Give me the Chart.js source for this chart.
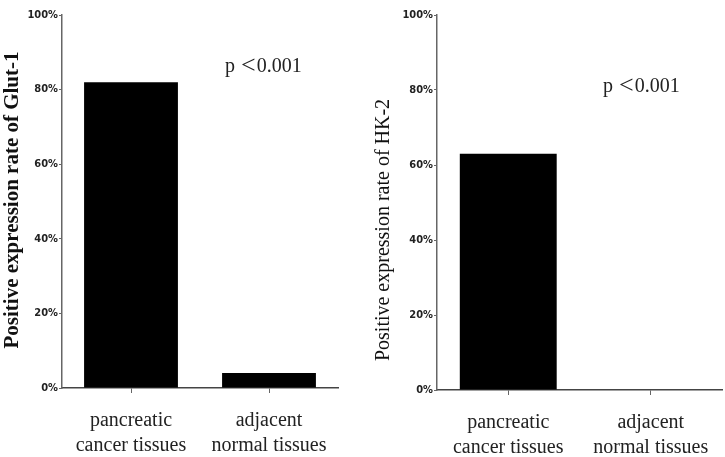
<!DOCTYPE html>
<html>
<head>
<meta charset="utf-8">
<script src="https://cdn.jsdelivr.net/npm/chart.js@4"></script>
<style>
    html, body { margin: 0; padding: 0; background: #fff; }
    #wrap { position: relative; width: 725px; height: 457px; overflow: hidden; }
    .box { position: absolute; top: 0; height: 457px; }
</style>
</head>
<body>
<div id="wrap">
    <div class="box" style="left:0; width:345px;"><canvas id="glutChart"></canvas></div>
    <div class="box" style="left:355px; width:370px;"><canvas id="hkChart"></canvas></div>
</div>
<script>
// Dados
const categories = [['pancreatic', 'cancer tissues'], ['adjacent', 'normal tissues']];
const glutValues = [82, 4];
const hkValues = [63, 0];
const yTicks = [0, 20, 40, 60, 80, 100];
const glutTitle = 'Positive expression rate of Glut-1';
const hkTitle = 'Positive expression rate of HK-2';
const pParts = ['p', '<', '0.001'];

const serif = 'Liberation Serif';
const narrow = 'DejaVu Sans Condensed';

// Textos extras (título do eixo y e valor p)
const extraText = {
    id: 'extraText',
    afterDraw(chart, args, opts) {
        const ctx = chart.ctx;
        ctx.save();
        ctx.fillStyle = '#111';
        ctx.textAlign = 'center';
        ctx.textBaseline = 'middle';
        // título vertical
        ctx.font = opts.titleFont;
        ctx.translate(opts.titleX, opts.titleY);
        ctx.rotate(-Math.PI / 2);
        ctx.fillText(opts.title, 0, 0);
        ctx.restore();

        // valor p, desenhado em partes para o sinal "<" ficar maior
        ctx.save();
        ctx.fillStyle = '#222';
        ctx.textAlign = 'left';
        ctx.textBaseline = 'alphabetic';
        let x = opts.pX;
        const base = opts.pY;
        ctx.font = '20px ' + serif;
        ctx.fillText(pParts[0], x, base);
        x += ctx.measureText(pParts[0]).width + 6;
        ctx.font = '26px ' + serif;
        ctx.fillText(pParts[1], x, base + 1);
        x += ctx.measureText(pParts[1]).width + 1;
        ctx.font = '20px ' + serif;
        ctx.fillText(pParts[2], x, base);
        ctx.restore();
    }
};

function makeChart(id, values, cfg) {
    const ctx = document.getElementById(id).getContext('2d');
    return new Chart(ctx, {
        type: 'bar',
        data: {
            labels: categories,
            datasets: [{
                data: values,
                backgroundColor: '#000',
                borderWidth: 0,
                barPercentage: 0.68,
                categoryPercentage: 1
            }]
        },
        options: {
            responsive: true,
            maintainAspectRatio: false,
            animation: false,
            layout: { padding: { left: 0, right: cfg.padRight, top: 15, bottom: 0 } },
            plugins: {
                legend: { display: false },
                tooltip: { enabled: false },
                extraText: cfg.text
            },
            scales: {
                x: {
                    offset: true,
                    grid: {
                        offset: false,
                        drawOnChartArea: false,
                        drawTicks: true,
                        tickLength: 5,
                        color: '#666'
                    },
                    border: { color: '#444', width: 1.5 },
                    ticks: {
                        color: '#222',
                        font: { family: serif, size: 20, lineHeight: 1.25 },
                        padding: 15,
                        maxRotation: 0
                    },
                    afterFit: (scale) => { scale.height = cfg.xHeight; }
                },
                y: {
                    min: 0,
                    max: 100,
                    afterBuildTicks: (scale) => { scale.ticks = yTicks.map(v => ({ value: v })); },
                    grid: {
                        drawOnChartArea: false,
                        tickLength: 3,
                        color: '#666'
                    },
                    border: { color: '#666', width: 1.5 },
                    ticks: {
                        color: '#222',
                        font: { family: narrow, size: 11, weight: 'bold' },
                        padding: 1,
                        callback: (v) => v + '%'
                    },
                    afterFit: (scale) => { scale.width = cfg.yWidth; }
                }
            }
        },
        plugins: [extraText]
    });
}

makeChart('glutChart', glutValues, {
    padRight: 7,
    xHeight: 69,
    yWidth: 62,
    text: { title: glutTitle, titleFont: 'bold 21px ' + serif, titleX: 13, titleY: 200, pX: 225, pY: 72 }
});

makeChart('hkChart', hkValues, {
    padRight: 3,
    xHeight: 67,
    yWidth: 82,
    text: { title: hkTitle, titleFont: '20px ' + serif, titleX: 29, titleY: 230, pX: 248, pY: 92 }
});
</script>
</body>
</html>
